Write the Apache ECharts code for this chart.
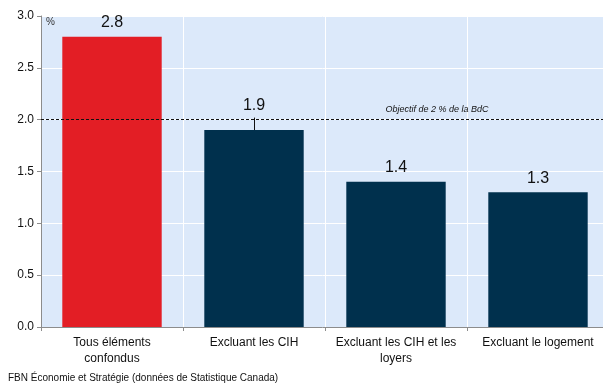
<!DOCTYPE html>
<html>
<head>
<meta charset="utf-8">
<script src="https://cdn.jsdelivr.net/npm/echarts@6/dist/echarts.min.js"></script>
<style>
  html, body { margin: 0; padding: 0; background: #fff; }
  #chart { width: 603px; height: 386px; }
</style>
</head>
<body>
<div id="chart"></div>
<script>
// Inflation measures (y/y %, Canada)
const categories = ['Tous éléments\nconfondus', 'Excluant les CIH', 'Excluant les CIH et les\nloyers', 'Excluant le logement'];
const values = [2.8, 1.9, 1.4, 1.3];
const barColors = ['#e31e25', '#00304d', '#00304d', '#00304d'];
const labelDistances = [6, 16, 6, 6];
const targetValue = 2;
const targetLabel = 'Objectif de 2 % de la BdC';
const yTicks = { min: 0, max: 3, interval: 0.5 };
const sourceText = 'FBN Économie et Stratégie (données de Statistique Canada)';

const font = '"Liberation Sans", Arial, sans-serif';
const chart = echarts.init(document.getElementById('chart'), null, { renderer: 'canvas' });

chart.setOption({
  animation: false,
  textStyle: { fontFamily: font },
  grid: {
    left: 41, top: 16, width: 568, height: 311,
    outerBoundsMode: 'none', containLabel: false,
    show: true, backgroundColor: '#dce9fa', borderWidth: 0
  },
  xAxis: {
    type: 'category',
    data: categories,
    axisLine: { lineStyle: { color: '#8c8c8c', width: 1 } },
    axisTick: { show: true, length: 4, lineStyle: { color: '#8c8c8c' } },
    splitLine: { show: true, lineStyle: { color: '#ffffff', width: 1 } },
    axisLabel: { color: '#111', fontSize: 12, lineHeight: 16, margin: 8, fontFamily: font, interval: 0 }
  },
  yAxis: {
    type: 'value',
    min: yTicks.min, max: yTicks.max, interval: yTicks.interval,
    axisLine: { show: true, lineStyle: { color: '#8c8c8c', width: 1 } },
    axisTick: { show: true, length: 4, lineStyle: { color: '#8c8c8c' } },
    splitLine: { show: true, lineStyle: { color: '#ffffff', width: 1 } },
    axisLabel: {
      color: '#111', fontSize: 12, margin: 7, fontFamily: font,
      formatter: v => v.toFixed(1)
    }
  },
  series: [{
    type: 'bar',
    barWidth: '70%',
    data: values.map((v, i) => ({
      value: v,
      itemStyle: { color: barColors[i] },
      label: { distance: labelDistances[i] }
    })),
    label: {
      show: true, position: 'top',
      color: '#111', fontSize: 16, fontFamily: font,
      formatter: p => p.value.toFixed(1)
    },
    markLine: {
      silent: true,
      symbol: 'none',
      animation: false,
      data: [
        [
          { coord: [1, values[1]], lineStyle: { type: 'solid', color: '#111', width: 1 }, label: { show: false } },
          { coord: [1, values[1] + 0.12] }
        ],
        {
          yAxis: targetValue,
          lineStyle: { type: [3, 2], color: '#111', width: 1 },
          label: {
            show: true, position: 'insideMiddleTop', formatter: targetLabel,
            offset: [112, -1], fontSize: 9, fontStyle: 'italic', color: '#111', fontFamily: font
          }
        }
      ]
    }
  }],
  graphic: [
    { type: 'text', left: 46, top: 17, style: { text: '%', fontSize: 10, fill: '#333', fontFamily: font } },
    { type: 'text', left: 8, top: 373, style: { text: sourceText, fontSize: 10, fill: '#111', fontFamily: font } }
  ]
});
</script>
</body>
</html>
